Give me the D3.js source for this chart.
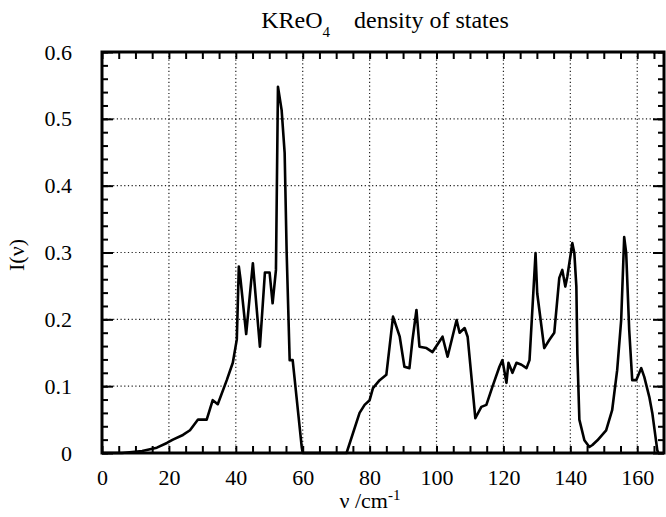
<!DOCTYPE html>
<html lang="en">
<head>
<meta charset="UTF-8">
<title>KReO4 density of states</title>
<script src="https://d3js.org/d3.v7.min.js"></script>
<style>
  body { margin: 0; background: #fff; }
</style>
</head>
<body>
<div id="plot"></div>
<script>
// density of states
const freq = [0, 6, 12, 16.4, 19.4, 21.2, 24.2, 26.3, 28.7, 31.3, 33.1, 34.6, 37.3, 39.1, 40.3,
  40.9, 41.4, 43.1, 45.1, 47.2, 48.7, 50.1, 51, 52, 52.6, 53.7, 54.6, 55.2, 56.1, 57, 59.7, 60,
  73.1, 77, 78.5, 80, 81, 83, 85, 87, 89, 90.4, 91.9, 92.8, 94, 94.9, 97, 98.8, 101.8, 103.3,
  106, 106.9, 108.4, 109.3, 111.6, 113.4, 114.9, 116.7, 118.8, 119.7, 120.9, 121.5, 122.7,
  123.9, 125.4, 126.9, 127.8, 129.6, 130.1, 132.2, 133.7, 135.2, 136.7, 137.6, 138.5, 139.1,
  140.6, 141.2, 141.8, 142.1, 142.7, 144.2, 145.7, 146.6, 148.1, 150.7, 152.5, 154, 155.2,
  156.1, 156.7, 157.6, 158.5, 159.7, 161.2, 162.1, 163.6, 164.5, 166, 166.3];
const intensity = [0, 0, 0.003, 0.008, 0.015, 0.02, 0.027, 0.034, 0.05, 0.05, 0.079, 0.073, 0.109, 0.135, 0.17,
  0.279, 0.26, 0.178, 0.284, 0.159, 0.27, 0.27, 0.224, 0.274, 0.548, 0.513, 0.449, 0.3, 0.139, 0.139, 0.009, 0,
  0, 0.06, 0.072, 0.079, 0.097, 0.109, 0.117, 0.204, 0.174, 0.129, 0.127, 0.169, 0.214, 0.159, 0.157, 0.151, 0.174, 0.144,
  0.199, 0.18, 0.187, 0.174, 0.052, 0.069, 0.072, 0.099, 0.129, 0.139, 0.105, 0.135, 0.12,
  0.135, 0.132, 0.127, 0.139, 0.299, 0.239, 0.157, 0.169, 0.18, 0.262, 0.274, 0.249, 0.264,
  0.314, 0.299, 0.249, 0.149, 0.05, 0.019, 0.009, 0.012, 0.019, 0.034, 0.064, 0.124, 0.199,
  0.323, 0.299, 0.184, 0.109, 0.109, 0.127, 0.114, 0.084, 0.06, 0.004, 0];

const xTicks = [0, 20, 40, 60, 80, 100, 120, 140, 160];
const yTicks = [0, 0.1, 0.2, 0.3, 0.4, 0.5, 0.6];
const yTickLabels = ["0", "0.1", "0.2", "0.3", "0.4", "0.5", "0.6"];

const FONT = '"Liberation Serif", "DejaVu Serif", serif';
const width = 666, height = 517;
const margin = { top: 52, right: 2, bottom: 64, left: 102 };

const svg = d3.select('#plot').append('svg')
  .attr('width', width).attr('height', height);

const x = d3.scaleLinear().domain([0, 168]).range([margin.left, width - margin.right]);
const y = d3.scaleLinear().domain([0, 0.6]).range([height - margin.bottom, margin.top]);

// dotted grid
const grid = svg.append('g').attr('stroke', '#222').attr('stroke-width', 1.2)
  .attr('stroke-dasharray', '1.2,2.5');
grid.selectAll('line.gx').data(xTicks.filter(d => d > 0)).join('line')
  .attr('x1', d => x(d)).attr('x2', d => x(d))
  .attr('y1', y(0)).attr('y2', y(0.6));
grid.selectAll('line.gy').data(yTicks.filter(d => d > 0 && d < 0.6)).join('line')
  .attr('x1', x(0)).attr('x2', x(168))
  .attr('y1', d => y(d)).attr('y2', d => y(d));

// inward ticks on all four sides
const minorX = d3.range(0, 168, 5);
const minorY = d3.range(0, 0.6001, 0.02);
function tickAxis(axisFn, scale, vals, size, tr) {
  svg.append('g').attr('transform', tr)
    .call(axisFn(scale).tickValues(vals).tickSize(-size).tickFormat(''))
    .call(g => g.select('.domain').remove())
    .call(g => g.selectAll('line').attr('stroke', '#000').attr('stroke-width', 2));
}
tickAxis(d3.axisBottom, x, minorX, 7, `translate(0,${y(0)})`);
tickAxis(d3.axisTop, x, minorX, 7, `translate(0,${y(0.6)})`);
tickAxis(d3.axisLeft, y, minorY, 6, `translate(${x(0)},0)`);
tickAxis(d3.axisLeft, y, yTicks, 11, `translate(${x(0)},0)`);
tickAxis(d3.axisRight, y, minorY, 6, `translate(${x(168)},0)`);
tickAxis(d3.axisRight, y, yTicks, 11, `translate(${x(168)},0)`);

// tick labels
svg.append('g').attr('transform', `translate(0,${y(0)})`)
  .call(d3.axisBottom(x).tickValues(xTicks).tickSize(0).tickPadding(16).tickFormat(d3.format('d')))
  .call(g => g.select('.domain').remove())
  .call(g => g.selectAll('text').style('font-family', FONT).style('font-size', '22px'));
svg.append('g').attr('transform', `translate(${x(0) - 30},0)`)
  .call(d3.axisLeft(y).tickValues(yTicks).tickSize(0).tickPadding(0).tickFormat((d, i) => yTickLabels[i]))
  .call(g => g.select('.domain').remove())
  .call(g => g.selectAll('text').style('font-family', FONT).style('font-size', '22px'));

// curve
const pts = freq.map((f, i) => [f, intensity[i]]);
svg.append('path').datum(pts)
  .attr('fill', 'none').attr('stroke', '#000').attr('stroke-width', 2.6)
  .attr('stroke-linejoin', 'round')
  .attr('d', d3.line().x(d => x(d[0])).y(d => y(d[1])));

// frame
svg.append('rect')
  .attr('x', x(0)).attr('y', y(0.6))
  .attr('width', x(168) - x(0)).attr('height', y(0) - y(0.6))
  .attr('fill', 'none').attr('stroke', '#000').attr('stroke-width', 3);

// title
const title = svg.append('text').attr('x', 385).attr('y', 28)
  .attr('text-anchor', 'middle').style('font-family', FONT).style('font-size', '24px');
title.append('tspan').text('KReO');
title.append('tspan').attr('dy', 9).style('font-size', '15px').text('4');
title.append('tspan').attr('dy', -9).text('\u2003density of states');

// axis labels
const xl = svg.append('text').attr('x', 370).attr('y', 508)
  .attr('text-anchor', 'middle').style('font-family', FONT).style('font-size', '22px');
xl.append('tspan').text('\u03bd /cm');
xl.append('tspan').attr('dy', -8).style('font-size', '15px').text('-1');

svg.append('text')
  .attr('transform', 'translate(24,255) rotate(-90)')
  .attr('text-anchor', 'middle').style('font-family', FONT).style('font-size', '22px')
  .text('I(\u03bd)');
</script>
</body>
</html>
